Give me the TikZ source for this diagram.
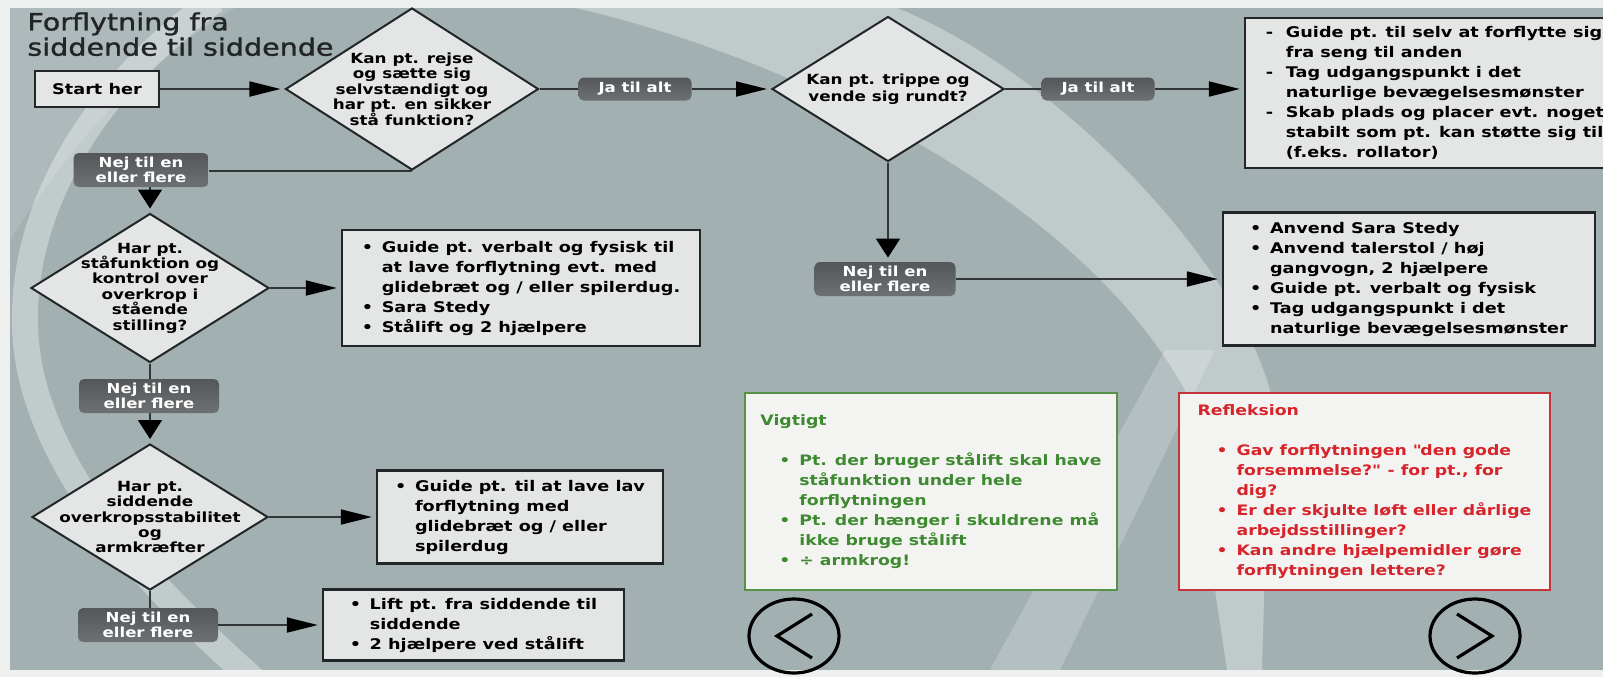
\documentclass[tikz,border=0pt]{standalone}
\usepackage{fontspec}
\setmainfont{DejaVu Sans}[FakeStretch=1.2]
\newfontfamily\titlefont{DejaVu Sans}[FakeStretch=1.2,FakeBold=1.2]
\usepackage{tikz}
\usetikzlibrary{shapes.geometric,arrows.meta}

\definecolor{pagecol}{RGB}{238,240,240}
\definecolor{bgmain}{RGB}{162,176,178}
\definecolor{boxfill}{RGB}{228,230,230}
\definecolor{boxline}{RGB}{35,38,40}
\definecolor{linecol}{RGB}{50,53,55}
\definecolor{tagtop}{RGB}{84,87,89}
\definecolor{tagbottom}{RGB}{110,113,115}
\definecolor{titlecol}{RGB}{34,36,38}
\definecolor{panelfill}{RGB}{243,244,242}
\definecolor{vgreen}{RGB}{62,138,48}
\definecolor{vgreenline}{RGB}{88,145,72}
\definecolor{rred}{RGB}{214,36,42}
\definecolor{rredline}{RGB}{196,52,58}

\newcommand{\bulp}{\makebox[10pt][l]{\textbullet}}
\newcommand{\dashp}{\makebox[10pt][l]{-}}
\newcommand{\contp}{\hspace*{10pt}}
\newcommand{\pbul}{\hspace*{9.5pt}\bulp}
\newcommand{\pind}{\hspace*{19.5pt}}

\begin{document}
\begin{tikzpicture}[x=0.5pt,y=-0.5pt,
  box/.style={draw=boxline,line width=1.2pt,fill=boxfill,align=left,inner sep=0pt,
    font=\bfseries\fontsize{7.35}{10}\selectfont},
  decision/.style={diamond,draw=boxline,line width=1pt,fill=boxfill,inner sep=0pt},
  qtext/.style={align=center,inner sep=0pt,font=\bfseries\fontsize{7}{7.7}\selectfont},
  tag/.style={top color=tagtop,bottom color=tagbottom,rounded corners=2.5pt,text=white,align=center,
    inner sep=0pt,font=\bfseries\fontsize{6.9}{7.2}\selectfont},
  link/.style={draw=linecol,line width=0.9pt},
  harrow/.style={link,-{Triangle[length=15.5pt,width=7.5pt,black]},shorten >=2pt},
  varrow/.style={link,-{Triangle[length=9.5pt,width=12pt,black]},shorten >=2pt},
  panel/.style={fill=panelfill,line width=1.2pt,align=left,inner sep=0pt,
    font=\bfseries\fontsize{7.2}{10}\selectfont},
  navbtn/.style={ellipse,draw=black,line width=1.6pt,minimum width=45pt,minimum height=37pt,inner sep=0pt}]

\useasboundingbox (0,0) rectangle (1603,677);

% {Background};
\fill[pagecol] (0,0) rectangle (1603,677);
\fill[bgmain] (10,8) rectangle (1603,670);
\begin{scope}
\clip (10,8) rectangle (1603,670);
\fill[white,opacity=0.12] (10,8) -- (235,8) .. controls (150,60) and (80,130) .. (10,240) -- cycle;
\draw[white,opacity=0.35,line width=13pt] (215,0) .. controls (55,115) and (0,270) .. (35,390)
  .. controls (70,510) and (175,610) .. (265,690);
\fill[white,opacity=0.33] (576,8) .. controls (800,60) and (1080,200) .. (1185,390) -- (1227,670)
  -- (1262,670) -- (1270,390) .. controls (1230,250) and (1050,70) .. (897,8) -- cycle;
\fill[white,opacity=0.2] (1165,350) -- (1215,350) -- (1060,670) -- (990,670) -- cycle;
\end{scope}

\node[anchor=north west,inner sep=0pt,align=left,text=titlecol,font=\titlefont\fontsize{11.9}{12.6}\selectfont]
  (title) at (27,12) {Forflytning fra\\siddende til siddende};

% {Top row};
\node[box,align=center,minimum width=62pt,minimum height=18pt] (start) at (97,89) {Start her};
\node[decision,minimum width=126.5pt,minimum height=81pt,
  label={[qtext]center:{Kan pt. rejse\\og sætte sig\\selvstændigt og\\har pt. en sikker\\stå funktion?}}]
  (d1) at (412,89) {};
\node[tag,minimum width=56.5pt,minimum height=11.5pt] (ja1) at (635,89) {Ja til alt};
\node[decision,minimum width=116pt,minimum height=72.5pt,
  label={[qtext,font=\bfseries\fontsize{7}{8.5}\selectfont]center:{Kan pt. trippe og\\vende sig rundt?}}]
  (d2) at (888,89) {};
\node[tag,minimum width=56.5pt,minimum height=11.5pt] (ja2) at (1098,89) {Ja til alt};
\node[box,minimum width=190pt,minimum height=75pt] (selv) at (1435,93)
  {\dashp Guide pt. til selv at forflytte sig\\
   \contp fra seng til anden\\
   \dashp Tag udgangspunkt i det\\
   \contp naturlige bevægelsesmønster\\
   \dashp Skab plads og placer evt. noget\\
   \contp stabilt som pt. kan støtte sig til\\
   \contp (f.eks. rollator)};

% {Left column};
\node[tag,minimum width=67.5pt,minimum height=17pt] (nej1) at (141,170) {Nej til en\\eller flere};
\node[decision,minimum width=119pt,minimum height=74.5pt,
  label={[qtext]center:{Har pt.\\ståfunktion og\\kontrol over\\overkrop i\\stående\\stilling?}}]
  (d3) at (150,288) {};
\node[box,minimum width=179pt,minimum height=58pt] (staa) at (521,288)
  {\bulp Guide pt. verbalt og fysisk til\\
   \contp at lave forflytning evt. med\\
   \contp glidebræt og / eller spilerdug.\\
   \bulp Sara Stedy\\
   \bulp Stålift og 2 hjælpere};
\node[tag,minimum width=70pt,minimum height=17pt] (nej2) at (149,396) {Nej til en\\eller flere};
\node[decision,minimum width=118pt,minimum height=73pt,
  label={[qtext]center:{Har pt.\\siddende\\overkropsstabilitet\\og\\armkræfter}}]
  (d4) at (150,517) {};
\node[box,minimum width=143pt,minimum height=46.5pt] (lav) at (520,517)
  {\bulp Guide pt. til at lave lav\\
   \contp forflytning med\\
   \contp glidebræt og / eller\\
   \contp spilerdug};
\node[tag,minimum width=70pt,minimum height=17pt] (nej3) at (148,625) {Nej til en\\eller flere};
\node[box,minimum width=150.5pt,minimum height=35.5pt] (lift) at (473.5,625)
  {\bulp Lift pt. fra siddende til\\
   \contp siddende\\
   \bulp 2 hjælpere ved stålift};

% {Middle column};
\node[tag,minimum width=70.5pt,minimum height=17pt] (nej4) at (885,279) {Nej til en\\eller flere};
\node[box,minimum width=186pt,minimum height=66.5pt] (sara) at (1409,279)
  {\bulp Anvend Sara Stedy\\
   \bulp Anvend talerstol / høj\\
   \contp gangvogn, 2 hjælpere\\
   \bulp Guide pt. verbalt og fysisk\\
   \bulp Tag udgangspunkt i det\\
   \contp naturlige bevægelsesmønster};

% {Notes};
\node[panel,draw=vgreenline,text=vgreen,minimum width=186pt,minimum height=98.5pt] (vigtigt) at (931,491.5)
  {Vigtigt\\[10pt]
   \pbul Pt. der bruger stålift skal have\\
   \pind ståfunktion under hele\\
   \pind forflytningen\\
   \pbul Pt. der hænger i skuldrene må\\
   \pind ikke bruge stålift\\
   \pbul ÷ armkrog!};
\node[panel,draw=rredline,text=rred,minimum width=185.5pt,minimum height=98.5pt] (refl) at (1364.5,491.5)
  {Refleksion\\[10pt]
   \pbul Gav forflytningen \textquotedbl den gode\\
   \pind forsemmelse?\textquotedbl{} - for pt., for\\
   \pind dig?\\
   \pbul Er der skjulte løft eller dårlige\\
   \pind arbejdsstillinger?\\
   \pbul Kan andre hjælpemidler gøre\\
   \pind forflytningen lettere?};

\node[navbtn] (prev) at (794,636) {};
\node[navbtn] (next) at (1475,636) {};
\draw[line width=1.6pt] ([xshift=9pt,yshift=11pt]prev.center) -- ([xshift=-8.5pt]prev.center)
  -- ([xshift=9pt,yshift=-11pt]prev.center);
\draw[line width=1.6pt] ([xshift=-9pt,yshift=11pt]next.center) -- ([xshift=8.5pt]next.center)
  -- ([xshift=-9pt,yshift=-11pt]next.center);

% {Connectors};
\draw[harrow] (start) -- (d1);
\draw[link] (d1.east) -- (ja1.west);
\draw[harrow] (ja1.east) -- (d2.west);
\draw[link] (d2.east) -- (ja2.west);
\draw[harrow] (ja2.east) -- (ja2.east -| selv.west);
\draw[link] (d1.south) -- (d1.south -| nej1.east);
\draw[varrow] (nej1.south -| d3.north) -- (d3.north);
\draw[harrow] (d3.east) -- (staa.west);
\draw[link] (d3.south) -- (d3.south |- nej2.north);
\draw[varrow] (nej2.south -| d4.north) -- (d4.north);
\draw[harrow] (d4.east) -- (lav.west);
\draw[link] (d4.south) -- (d4.south |- nej3.north);
\draw[harrow] (nej3.east) -- (lift.west);
\draw[varrow] (d2.south) -- (d2.south |- nej4.north);
\draw[harrow] (nej4.east) -- (sara.west);

\end{tikzpicture}
\end{document}
